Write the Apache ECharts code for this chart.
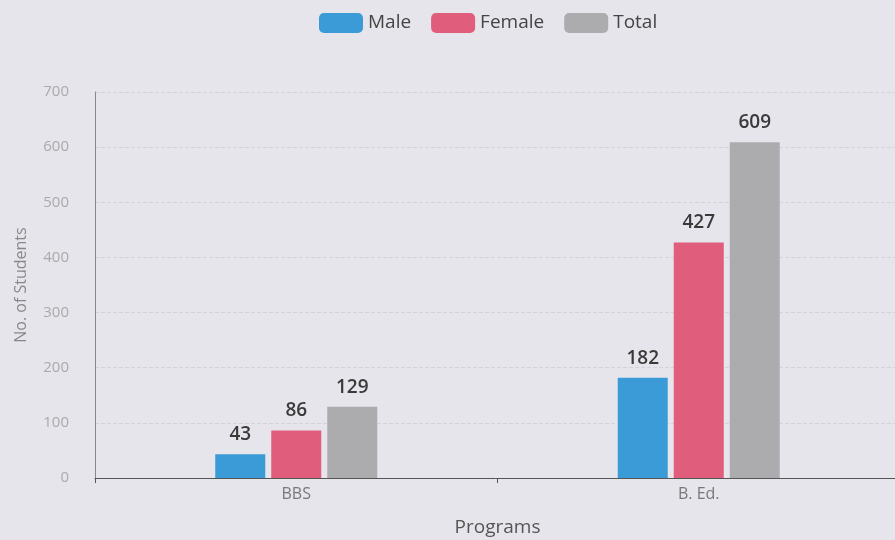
<!DOCTYPE html>
<html>
<head>
<meta charset="utf-8">
<script src="https://cdn.jsdelivr.net/npm/echarts@6/dist/echarts.min.js"></script>
<style>
  html, body { margin: 0; padding: 0; background: #e7e5ec; }
  #chart { width: 895px; height: 540px; }
</style>
</head>
<body>
<div id="chart"></div>
<script>
var programs = ['BBS', 'B. Ed.'];
var male = [43, 182];
var female = [86, 427];
var total = [129, 609];

var chart = echarts.init(document.getElementById('chart'));

var labelStyle = {
    show: true,
    position: 'top',
    distance: 10,
    color: '#3a3a3a',
    fontSize: 19,
    fontWeight: 600,
    fontFamily: 'Open Sans'
};

chart.setOption({
    backgroundColor: '#e7e5ec',
    textStyle: { fontFamily: 'Open Sans' },
    legend: {
        data: ['Male', 'Female', 'Total'],
        top: 8,
        left: 314,
        itemWidth: 44,
        itemHeight: 20,
        itemGap: 20,
        textStyle: { color: '#444', fontSize: 19 }
    },
    grid: {
        left: 95,
        right: -5,
        top: 92,
        bottom: 62,
        outerBoundsMode: 'none'
    },
    xAxis: {
        type: 'category',
        data: programs,
        name: 'Programs',
        nameLocation: 'middle',
        nameGap: 40,
        nameTextStyle: { color: '#555', fontSize: 19 },
        axisLine: { lineStyle: { color: '#555' } },
        axisTick: { show: true, lineStyle: { color: '#555' } },
        axisLabel: { color: '#777', fontSize: 16, margin: 8 }
    },
    yAxis: {
        type: 'value',
        min: 0,
        max: 700,
        interval: 100,
        name: 'No. of Students',
        nameLocation: 'middle',
        nameGap: 66,
        nameTextStyle: { color: '#888', fontSize: 16 },
        axisLine: { show: true, lineStyle: { color: '#888' } },
        axisTick: { show: false },
        axisLabel: { color: '#aaa', fontSize: 15, margin: 26 },
        splitLine: { lineStyle: { color: '#d4d2da', type: 'dashed' } }
    },
    series: [
        {
            name: 'Male',
            type: 'bar',
            data: male,
            barWidth: 50,
            barGap: '12%',
            itemStyle: { color: '#3b9bd6' },
            label: labelStyle
        },
        {
            name: 'Female',
            type: 'bar',
            data: female,
            barWidth: 50,
            barGap: '12%',
            itemStyle: { color: '#e05d7b' },
            label: labelStyle
        },
        {
            name: 'Total',
            type: 'bar',
            data: total,
            barWidth: 50,
            barGap: '12%',
            itemStyle: { color: '#acabae' },
            label: labelStyle
        }
    ]
});
</script>
</body>
</html>
